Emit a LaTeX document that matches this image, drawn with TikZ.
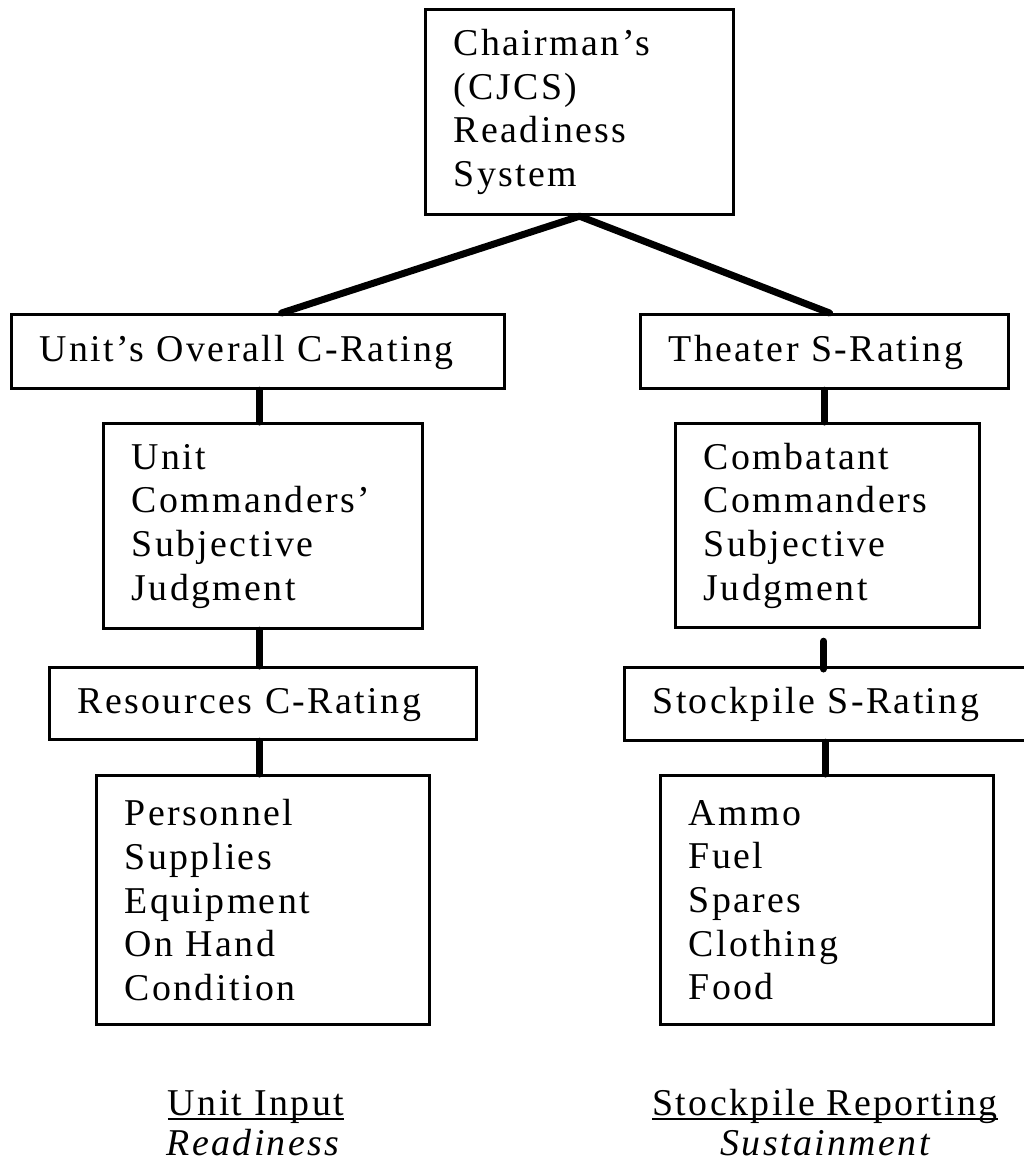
\documentclass[tikz,border=0pt]{standalone}
\usepackage{fontspec}
\setmainfont{Liberation Serif}[LetterSpace=6.4]
\newcommand\boxfont{\fontsize{38}{43.8}\selectfont}
\begin{document}
\begin{tikzpicture}[x=1bp,y=-1bp,
  box/.style={draw, line width=3.2bp, rectangle, anchor=north west, align=left,
    inner xsep=28bp, inner ysep=0bp, font=\boxfont},
  one/.style={box, text height=25bp, text depth=6bp},
  conn/.style={line width=7bp, line cap=round, line join=round},
  lab/.style={inner sep=0pt, anchor=base, font=\boxfont},
  uline/.style={line width=1.3bp}]
\useasboundingbox (0,0) rectangle (1024,1162);
\clip (0,0) rectangle (1024,1162);
% boxes
\node[box, minimum width=308bp, minimum height=205bp, text width=252bp] (top) at (424,8)
  {Chairman’s\\(CJCS)\\Readiness\\System};
\node[one, minimum width=493bp, minimum height=74bp, text width=437bp] (u2) at (10,313)
  {Unit’s Overall C-Rating};
\node[one, minimum width=368bp, minimum height=74bp, text width=312bp] (t2) at (639,313)
  {Theater S-Rating};
\node[box, minimum width=319bp, minimum height=205bp, text width=263bp] (u3) at (102,422)
  {Unit\\Commanders’\\Subjective\\Judgment};
\node[box, minimum width=304bp, minimum height=204bp, text width=248bp] (t3) at (674,422)
  {Combatant\\Commanders\\Subjective\\Judgment};
\node[one, minimum width=427bp, minimum height=72bp, text width=371bp] (u4) at (48,666)
  {Resources C-Rating};
\node[one, minimum width=410bp, minimum height=73bp, text width=354bp] (t4) at (623,666)
  {Stockpile S-Rating};
\node[box, minimum width=333bp, minimum height=249bp, text width=277bp] (u5) at (95,774)
  {Personnel\\Supplies\\Equipment\\On Hand\\Condition};
\node[box, minimum width=333bp, minimum height=249bp, text width=277bp] (t5) at (659,774)
  {Ammo\\Fuel\\Spares\\Clothing\\Food};
% labels
\node[lab] (ui) at (256,1115) {Unit Input};
\node[lab] (rd) at (253,1155) {\itshape Readiness};
\node[lab] (sr) at (825,1115) {Stockpile Reporting};
\node[lab] (su) at (825,1155) {\itshape Sustainment};
\draw[uline] ([yshift=-4bp]ui.base west) -- ([yshift=-4bp]ui.base east);
\draw[uline] ([yshift=-4bp]sr.base west) -- ([yshift=-4bp]sr.base east);
% connectors
\draw[conn] ([xshift=23.5bp]u2.north) -- (top.south) -- ([xshift=5bp]t2.north);
\draw[conn] ([xshift=1.5bp]u2.south) -- ([xshift=1.5bp]u2.south |- u3.north);
\draw[conn] ([xshift=-3.5bp]u3.south) -- ([xshift=-3.5bp]u3.south |- u4.north);
\draw[conn] ([xshift=-3.5bp]u4.south) -- ([xshift=-3.5bp]u4.south |- u5.north);
\draw[conn] (t2.south) -- (t2.south |- t3.north);
\draw[conn, shorten <=12bp, shorten >=-3bp] ([xshift=-4bp]t3.south) -- ([xshift=-4bp]t3.south |- t4.north);
\draw[conn] ([xshift=-4bp]t4.south) -- ([xshift=-4bp]t4.south |- t5.north);
\end{tikzpicture}
\end{document}
